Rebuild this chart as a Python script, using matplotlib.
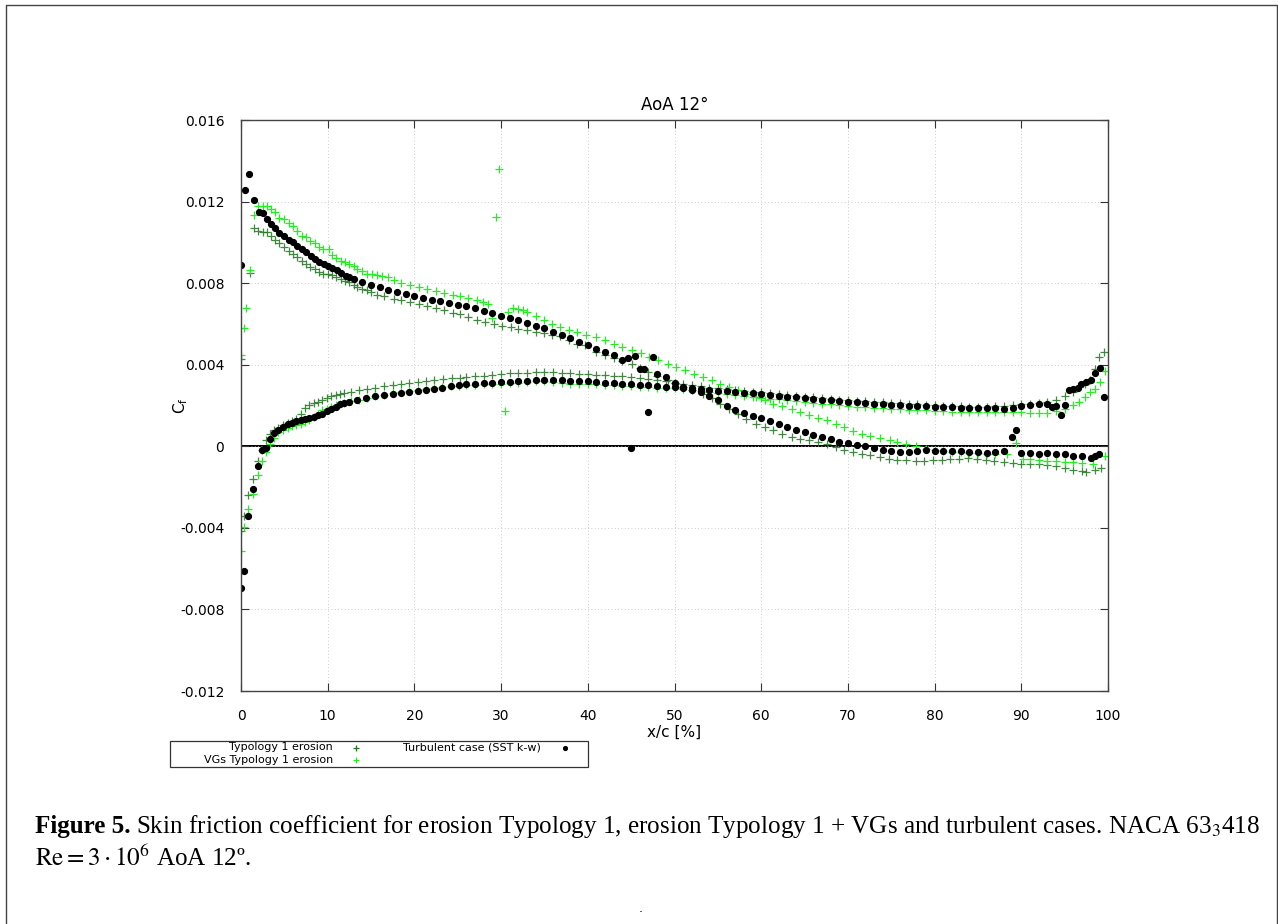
#!/usr/bin/env python3
import matplotlib
matplotlib.use("Agg")
import matplotlib.pyplot as plt
from matplotlib.lines import Line2D
from matplotlib.patches import Rectangle

# ---- data (x/c in %, Cf) ----
# Typology 1 erosion (dark green), suction side
typ1_x_suc = [0, 1.0, 1.46, 2.0, 2.5, 3.0, 3.45, 3.95, 4.44, 5.0, 5.5, 6.0, 6.5, 7.0, 7.5, 8.0, 8.5, 9.0, 9.5,
              10, 10.5, 11, 11.5, 12, 12.4, 13, 13.4, 14, 14.5, 15, 15.7, 16.5, 17.6, 18.5, 19.5, 20.5, 21.5,
              22.5, 23.4, 24.4, 25.3, 26.2, 27.2, 28.2, 29.2, 30.1, 31.1, 32, 33, 34, 34.9, 35.9, 36.8, 37.8,
              38.7, 39.7, 41, 42, 43, 44, 45.1, 46, 47, 48, 49.2, 50, 51, 52, 53.3, 54.3, 55.3, 56.3, 57.3,
              58.3, 59.4, 60.4, 61.4, 62.4, 63.5, 64.5, 65.5, 66.5, 67.6, 68.6, 69.6, 70.6, 71.6, 72.6, 73.7,
              74.7, 75.7, 76.7, 77.8, 78.8, 79.8, 80.8, 81.8, 82.8, 83.9, 84.9, 85.9, 86.9, 88, 89, 90, 91,
              92, 93, 94, 95, 96, 97, 97.5, 98.5, 99.2]
typ1_cf_suc = [0.0043, 0.0085, 0.0107, 0.01058, 0.01053, 0.01053, 0.01029, 0.01012, 0.00996, 0.00976, 0.0096,
               0.00944, 0.00927, 0.00908, 0.00895, 0.00878, 0.00867, 0.00857, 0.00844, 0.00843, 0.00838,
               0.0083, 0.00821, 0.00812, 0.00805, 0.00792, 0.0078, 0.00772, 0.00764, 0.00756, 0.00744,
               0.00735, 0.00723, 0.00715, 0.00707, 0.00697, 0.00686, 0.00676, 0.00666, 0.00656, 0.00647,
               0.00632, 0.00617, 0.00609, 0.00601, 0.00592, 0.00584, 0.00576, 0.00568, 0.00561, 0.00555,
               0.00547, 0.00539, 0.00522, 0.00503, 0.00495, 0.00462, 0.00449, 0.00434, 0.00418, 0.00402,
               0.00385, 0.00365, 0.00345, 0.00323, 0.00308, 0.0029, 0.00275, 0.00258, 0.00235, 0.00209,
               0.00184, 0.0016, 0.00135, 0.00111, 0.00095, 0.00078, 0.00062, 0.00046, 0.00037, 0.00029,
               0.0002, 0.0001, -0.00005, -0.0002, -0.00028, -0.00036, -0.00044, -0.00052, -0.0006, -0.00066,
               -0.00069, -0.0007, -0.0007, -0.00069, -0.00066, -0.00063, -0.0006, -0.00058, -0.00062,
               -0.00066, -0.00072, -0.00077, -0.00082, -0.00086, -0.00087, -0.00088, -0.00093, -0.00098,
               -0.00106, -0.00114, -0.0012, -0.00126, -0.00115, -0.00105]

# Typology 1 erosion, pressure side
typ1_x_pre = [0, 0.35, 0.85, 1.35, 1.92, 2.4, 2.88, 3.35, 3.85, 4.3, 4.9, 5.4, 5.9, 6.4, 6.9, 7.4, 7.9, 8.4, 8.9,
              9.4, 9.9, 10.4, 10.9, 11.4, 11.9, 12.7, 13.6, 14.5, 15.5, 16.5, 17.5, 18.5, 19.4, 20.4, 21.3,
              22.3, 23.3, 24.3, 25.3, 26, 27, 28, 29, 30, 31, 32, 33, 34, 35, 36, 37, 38, 39, 40, 41, 42, 43,
              44, 45, 46, 47, 48, 49, 50, 51, 52, 53, 54, 55, 56, 57, 58, 59, 60, 61, 62, 63, 64, 65, 66, 67,
              68, 69, 70, 71, 72, 73, 74, 75, 76, 77, 78, 79, 80, 81, 82, 83, 84, 85, 86, 87, 88, 89, 90, 91,
              92, 93, 94, 95, 96, 96.7, 97.4, 97.9, 98.5, 99.0, 99.5]
typ1_cf_pre = [-0.00416, -0.0034, -0.00237, -0.0016, -0.00074, -0.0002, 0.00029, 0.00059, 0.00079, 0.0009,
               0.00103, 0.00114, 0.00124, 0.00136, 0.00157, 0.0019, 0.00201, 0.0021, 0.00217, 0.00229,
               0.00239, 0.00245, 0.0025, 0.00256, 0.00262, 0.00268, 0.00275, 0.00282, 0.00288, 0.00294,
               0.003, 0.00306, 0.00311, 0.00316, 0.00321, 0.00325, 0.00329, 0.00333, 0.00337, 0.0034,
               0.00343, 0.00346, 0.0035, 0.00354, 0.00357, 0.00359, 0.00361, 0.00363, 0.00364, 0.00363,
               0.00361, 0.00358, 0.00355, 0.00353, 0.00352, 0.0035, 0.00347, 0.00344, 0.0034, 0.00336,
               0.00331, 0.00325, 0.00318, 0.00312, 0.00306, 0.003, 0.00294, 0.00288, 0.00284, 0.0028,
               0.00276, 0.00272, 0.00268, 0.00264, 0.0026, 0.00256, 0.00252, 0.00248, 0.00244, 0.0024,
               0.00236, 0.00232, 0.00229, 0.00226, 0.00222, 0.0022, 0.00217, 0.00215, 0.00212, 0.0021,
               0.00208, 0.00206, 0.00204, 0.00202, 0.002, 0.00198, 0.00196, 0.00194, 0.00193, 0.00195,
               0.00198, 0.002, 0.00203, 0.00206, 0.00209, 0.00213, 0.00219, 0.00228, 0.00245, 0.00266,
               0.00291, 0.00307, 0.00324, 0.0038, 0.0044, 0.00463]

# VGs Typology 1 erosion (bright green), suction side
vgs_x_suc = [0, 0.4, 0.6, 1.0, 1.46, 2.0, 2.5, 3.0, 3.45, 3.95, 4.44, 5.0, 5.5, 6.0, 6.5, 7.0, 7.5, 8.0, 8.5, 9.0,
             9.5, 10.1, 10.5, 11, 11.5, 12, 12.4, 13, 13.4, 14, 14.5, 15.1, 15.7, 16.3, 16.9, 17.6, 18.5, 19.5,
             20.5, 21.5, 22.5, 23.4, 24.4, 25.3, 26.2, 27.2, 27.9, 28.5, 29.0, 29.4, 29.8, 30.5, 30.8, 31.4,
             32, 32.5, 33, 34, 34.9, 35.9, 36.8, 37.8, 38.7, 39.8, 41, 42, 43, 44, 45.1, 46.1, 47.1, 48.1,
             49.2, 50.2, 51.2, 52.2, 53.3, 54.3, 55.3, 56.3, 57.3, 58.3, 59.4, 60.4, 61.4, 62.4, 63.5, 64.5,
             65.5, 66.5, 67.6, 68.6, 69.6, 70.6, 71.6, 72.6, 73.7, 74.8, 75.7, 76.7, 77.8, 79, 80, 81, 82,
             83, 84, 85, 86, 87, 88.3, 89.4, 90.2, 91, 92, 93, 94, 95, 96, 97, 98.3, 99.6]
vgs_cf_suc = [0.0045, 0.0058, 0.0068, 0.00865, 0.01135, 0.01177, 0.01177, 0.0118, 0.01164, 0.01148, 0.0112,
              0.01115, 0.01094, 0.01079, 0.01058, 0.01033, 0.01025, 0.01009, 0.00998, 0.00976, 0.00965,
              0.00968, 0.00936, 0.00922, 0.00911, 0.00902, 0.00895, 0.00882, 0.0087, 0.00858, 0.00846,
              0.00844, 0.00841, 0.00835, 0.00829, 0.00813, 0.00801, 0.00789, 0.0078, 0.00772, 0.00762,
              0.00751, 0.00743, 0.00735, 0.00725, 0.00715, 0.00707, 0.00699, 0.0063, 0.01123, 0.01358,
              0.00173, 0.00658, 0.00679, 0.00674, 0.00666, 0.00658, 0.00638, 0.00617, 0.006, 0.00584,
              0.00572, 0.0056, 0.00548, 0.00535, 0.0052, 0.00503, 0.00488, 0.0047, 0.00455, 0.00438,
              0.00422, 0.00405, 0.00388, 0.00372, 0.00356, 0.0034, 0.00323, 0.00307, 0.0029, 0.00274,
              0.00258, 0.00242, 0.00225, 0.00209, 0.00197, 0.00184, 0.00168, 0.00152, 0.0014, 0.00127,
              0.00111, 0.00095, 0.00075, 0.0006, 0.00052, 0.00041, 0.00029, 0.00021, 0.00013, 0.00003,
              -0.00011, -0.00018, -0.00022, -0.00026, -0.00029, -0.00032, -0.00034, -0.00036, -0.00037,
              -0.00039, 0.00016, -0.0006, -0.00064, -0.00069, -0.00071, -0.00073, -0.00075, -0.00077,
              -0.0008, -0.00085, -0.00049]

# VGs Typology 1 erosion, pressure side
vgs_x_pre = [0, 0.35, 0.85, 1.35, 1.92, 2.38, 2.88, 3.35, 3.85, 4.3, 4.9, 5.4, 5.9, 6.4, 6.9, 7.4, 7.9, 8.4, 8.9,
             9.4, 9.9, 10.4, 10.9, 11.4, 11.9, 12.7, 13.6, 14.5, 15.5, 16.5, 17.5, 18.5, 19.4, 20.4, 21.3,
             22.3, 23.2, 24.2, 25.2, 26, 27, 28, 29, 30, 31, 32, 33, 34, 35, 36, 37, 38, 39, 40, 41, 42, 43,
             44, 45, 46, 47, 48, 49, 50, 51, 52, 53, 54, 55, 56, 57, 58, 59, 60, 61, 62, 63, 64, 65, 66, 67,
             68, 69, 70, 71, 72, 73, 74, 75, 76, 77, 78, 79, 80, 81, 82, 83, 84, 85, 86, 87, 88, 89, 90, 91,
             92, 93, 94, 95, 96, 96.7, 97.4, 97.9, 98.5, 99.1, 99.6]
vgs_cf_pre = [-0.00514, -0.00396, -0.00306, -0.00232, -0.00142, -0.00074, -0.00028, 0.0001, 0.00043, 0.0007,
              0.00079, 0.00092, 0.001, 0.00106, 0.00111, 0.00118, 0.00128, 0.00144, 0.0016, 0.00177,
              0.00185, 0.00193, 0.00201, 0.00207, 0.00213, 0.00221, 0.00229, 0.00237, 0.00245, 0.00252,
              0.00259, 0.00266, 0.00272, 0.00278, 0.00283, 0.00287, 0.00291, 0.00294, 0.00297, 0.00299,
              0.00301, 0.00303, 0.00305, 0.00307, 0.00309, 0.00312, 0.00315, 0.00318, 0.0032, 0.00316,
              0.00309, 0.00306, 0.00305, 0.00304, 0.00304, 0.00302, 0.003, 0.00297, 0.00294, 0.00292,
              0.0029, 0.00288, 0.00286, 0.00284, 0.00281, 0.00277, 0.00272, 0.00267, 0.00262, 0.00256,
              0.00251, 0.00247, 0.00243, 0.00238, 0.00234, 0.0023, 0.00226, 0.00222, 0.00217, 0.00213,
              0.00209, 0.00205, 0.00202, 0.00198, 0.00195, 0.00192, 0.00189, 0.00187, 0.00184, 0.00182,
              0.0018, 0.00178, 0.00176, 0.00174, 0.00172, 0.0017, 0.00169, 0.00168, 0.00168, 0.00168,
              0.00168, 0.00168, 0.00167, 0.00166, 0.00165, 0.00163, 0.00165, 0.00172, 0.00182, 0.00201,
              0.00217, 0.00242, 0.00267, 0.00283, 0.00316, 0.0037]

# Turbulent case SST k-w (black), suction side
turb_x_suc = [0, 0.46, 0.96, 1.46, 2.03, 2.5, 3.0, 3.45, 3.95, 4.44, 5.0, 5.56, 6.05, 6.5, 7.0, 7.5, 8.05, 8.55,
              9.04, 9.6, 10.08, 10.5, 11.03, 11.5, 12.07, 12.5, 13.0, 14, 15, 16, 17, 18, 19, 20, 21, 22, 23,
              24, 25, 26, 27, 28, 29, 30, 31, 32, 33, 34, 35, 36, 37, 38, 39, 40, 41, 42, 43, 44, 44.6, 45.0,
              45.5, 46, 46.5, 47, 47.5, 48, 49, 50, 51, 52, 53, 54, 55, 56, 57, 58, 59, 60, 61, 62, 63, 64, 65,
              66, 67, 68, 69, 70, 71, 72, 73, 74, 75, 76, 77, 78, 79, 80, 81, 82, 83, 84, 85, 86, 87, 88, 88.9,
              89.4, 90, 91, 92, 93, 94, 95, 96, 97, 98, 98.5, 99]
turb_cf_suc = [0.0089, 0.01256, 0.01337, 0.0121, 0.01151, 0.01143, 0.01115, 0.01092, 0.01069, 0.01048, 0.0103,
               0.01014, 0.01001, 0.00981, 0.00965, 0.00953, 0.00935, 0.00918, 0.00906, 0.00895, 0.00885,
               0.00873, 0.00862, 0.0085, 0.00836, 0.00828, 0.0082, 0.00805, 0.00793, 0.0078, 0.00768,
               0.00757, 0.00747, 0.00737, 0.00728, 0.00718, 0.0071, 0.00702, 0.00695, 0.00686, 0.00676,
               0.00665, 0.00652, 0.0064, 0.00628, 0.00617, 0.00605, 0.00592, 0.00578, 0.00562, 0.00546,
               0.0053, 0.00512, 0.00495, 0.00478, 0.00462, 0.00447, 0.00425, 0.00434, -0.0001, 0.00442,
               0.0038, 0.00378, 0.0017, 0.00438, 0.00354, 0.00338, 0.0031, 0.00292, 0.00278, 0.00265,
               0.00248, 0.00225, 0.002, 0.00178, 0.00162, 0.0015, 0.00138, 0.00125, 0.0011, 0.00095, 0.0008,
               0.00068, 0.00057, 0.00046, 0.00035, 0.00022, 0.00014, 0.00006, 0.0, -0.00008, -0.00016,
               -0.00024, -0.00028, -0.00026, -0.00022, -0.0002, -0.00022, -0.00023, -0.00024, -0.00025,
               -0.00027, -0.00029, -0.00031, -0.00028, -0.00025, 0.00046, 0.00082, -0.00033, -0.00034,
               -0.00036, -0.00035, -0.00036, -0.0004, -0.00046, -0.0005, -0.00055, -0.00049, -0.0004]

# Turbulent case, pressure side
turb_x_pre = [0, 0.35, 0.85, 1.35, 1.92, 2.38, 2.88, 3.35, 3.85, 4.3, 4.9, 5.4, 5.9, 6.4, 6.9, 7.4, 7.9, 8.4, 8.9,
              9.4, 9.9, 10.4, 10.9, 11.4, 11.9, 12.5, 13.4, 14.4, 15.5, 16.5, 17.5, 18.5, 19.4, 20.4, 21.3,
              22.3, 23.2, 24.2, 25.2, 26, 27, 28, 29, 30, 31, 32, 33, 34, 35, 36, 37, 38, 39, 40, 41, 42, 43,
              44, 45, 46, 47, 48, 49, 50, 51, 52, 53, 54, 55, 56, 57, 58, 59, 60, 61, 62, 63, 64, 65, 66, 67,
              68, 69, 70, 71, 72, 73, 74, 75, 76, 77, 78, 79, 80, 81, 82, 83, 84, 85, 86, 87, 88, 89, 90, 91,
              92, 93, 93.5, 94.0, 94.6, 95.0, 95.5, 96.0, 96.5, 96.9, 97.5, 98.0, 98.5, 99.1, 99.5]
turb_cf_pre = [-0.00697, -0.00614, -0.00344, -0.00208, -0.00097, -0.0002, -0.00007, 0.00034, 0.00065, 0.00082,
               0.00095, 0.00108, 0.00114, 0.00124, 0.00131, 0.00134, 0.00139, 0.00144, 0.00151, 0.0016,
               0.00173, 0.00185, 0.00195, 0.00205, 0.00213, 0.00219, 0.00229, 0.00237, 0.00245, 0.0025,
               0.00255, 0.00261, 0.00266, 0.00272, 0.00278, 0.00283, 0.00288, 0.00294, 0.00301, 0.00303,
               0.00305, 0.00308, 0.00311, 0.00313, 0.00316, 0.00319, 0.00322, 0.00325, 0.00327, 0.00326,
               0.00323, 0.00321, 0.0032, 0.00318, 0.00314, 0.00311, 0.00309, 0.00307, 0.00305, 0.00302,
               0.003, 0.00297, 0.00293, 0.0029, 0.00288, 0.00285, 0.00281, 0.00276, 0.00273, 0.0027,
               0.00267, 0.00263, 0.00259, 0.00255, 0.00251, 0.00248, 0.00243, 0.0024, 0.00235, 0.00232,
               0.00229, 0.00227, 0.00224, 0.00219, 0.00216, 0.00213, 0.00209, 0.00206, 0.00204, 0.00202,
               0.002, 0.00198, 0.00196, 0.00194, 0.00193, 0.00192, 0.0019, 0.00189, 0.00188, 0.00187,
               0.00186, 0.00185, 0.00187, 0.00196, 0.00203, 0.00208, 0.00206, 0.00193, 0.00196, 0.00152,
               0.00201, 0.00278, 0.00283, 0.00288, 0.00304, 0.00316, 0.00324, 0.0036, 0.00384, 0.00242]

x_ticks = [0, 10, 20, 30, 40, 50, 60, 70, 80, 90, 100]
y_ticks = [-0.012, -0.008, -0.004, 0, 0.004, 0.008, 0.012, 0.016]
y_tick_labels = ["-0.012", "-0.008", "-0.004", "0", "0.004", "0.008", "0.012", "0.016"]

DARK = "#1f741f"
BRIGHT = "#22ee22"

W, H = 1278, 924
fig = plt.figure(figsize=(W / 100, H / 100), dpi=100)
ax = fig.add_axes([241 / W, 1 - 691 / H, (1108 - 241) / W, (691 - 120) / H])

plus_kw = dict(linestyle="none", marker="+", markersize=5.8, markeredgewidth=0.9)
ax.plot(typ1_x_suc, typ1_cf_suc, color=DARK, alpha=0.85, **plus_kw)
ax.plot(typ1_x_pre, typ1_cf_pre, color=DARK, alpha=0.85, **plus_kw)
ax.plot(vgs_x_suc, vgs_cf_suc, color=BRIGHT, **plus_kw)
ax.plot(vgs_x_pre, vgs_cf_pre, color=BRIGHT, **plus_kw)
ax.plot(turb_x_suc, turb_cf_suc, linestyle="none", marker="o", markersize=4.2, color="black")
ax.plot(turb_x_pre, turb_cf_pre, linestyle="none", marker="o", markersize=4.2, color="black")

ax.axhline(0, color="black", lw=1.4, zorder=1)

ax.set_xlim(0, 100)
ax.set_ylim(-0.012, 0.016)
ax.set_xticks(x_ticks)
ax.set_yticks(y_ticks)
ax.set_yticklabels(y_tick_labels)
ax.tick_params(direction="in", length=6, width=0.8, top=True, right=True, labelsize=10, color="#333333")
ax.tick_params(axis="x", pad=13)
ax.tick_params(axis="y", pad=12)
ax.grid(True, linestyle=(0, (1, 3)), color="#bbbbbb", lw=0.6)
for s in ax.spines.values():
    s.set_color("#444444")
    s.set_linewidth(1.0)

ax.set_title("AoA 12°", fontsize=12, pad=7)
ax.set_xlabel("x/c [%]", fontsize=11, labelpad=1)
ax.set_ylabel(r"C$_\mathregular{f}$", fontsize=11, labelpad=-7)

# key box under the plot, gnuplot style (text first, symbol after)
fig.patches.append(Rectangle((170 / W, 1 - 767 / H), (588 - 170) / W, 26 / H, transform=fig.transFigure,
                             fill=False, edgecolor="#333333", lw=0.9))
key = [("Typology 1 erosion", 333, 356, 747.5, DARK, "+"),
       ("VGs Typology 1 erosion", 333, 356, 760, BRIGHT, "+"),
       ("Turbulent case (SST k-w)", 541, 565, 747.5, "black", "o")]
for label, tx, mx, py, col, mk in key:
    fig.text(tx / W, 1 - py / H, label, ha="right", va="center", fontsize=8)
    fig.lines.append(Line2D([mx / W], [1 - py / H], transform=fig.transFigure, linestyle="none", marker=mk,
                            color=col, markersize=4 if mk == "+" else 2.8, markeredgewidth=0.9))

# page frame
fig.lines.append(Line2D([6 / W, 6 / W, 1277 / W, 1277 / W], [0, 1 - 5 / H, 1 - 5 / H, 0],
                        transform=fig.transFigure, color="#444444", lw=1.0))

# caption: bold label + text, first line fitted to run from x=35 to x=1262
cap_kw = dict(family="Liberation Serif", va="center", math_fontfamily="stix")
size = 17.5
t_bold = fig.text(35 / W, 1 - 827 / H, "Figure 5.", fontweight="bold", fontsize=size, **cap_kw)
t_rest = fig.text(0, 1 - 827 / H,
                  "Skin friction coefficient for erosion Typology 1, erosion Typology 1 + VGs and turbulent cases. "
                  r"NACA 63$_3$418", fontsize=size, **cap_kw)
t_line2 = fig.text(35 / W, 1 - 858 / H, r"$\mathrm{Re} = 3\cdot10^6$ AoA 12º.", fontsize=size, **cap_kw)
renderer = fig.canvas.get_renderer()
for _ in range(3):
    for t in (t_bold, t_rest, t_line2):
        t.set_fontsize(size)
    b1 = t_bold.get_window_extent(renderer)
    t_rest.set_x((b1.x1 + 0.3 * size) / W)
    b2 = t_rest.get_window_extent(renderer)
    size *= (1262 - 35) / (b2.x1 - 35)

fig.text(641 / W, 1 - 908 / H, ".", fontsize=9, ha="center", va="center")

fig.savefig("out.png", dpi=100)
